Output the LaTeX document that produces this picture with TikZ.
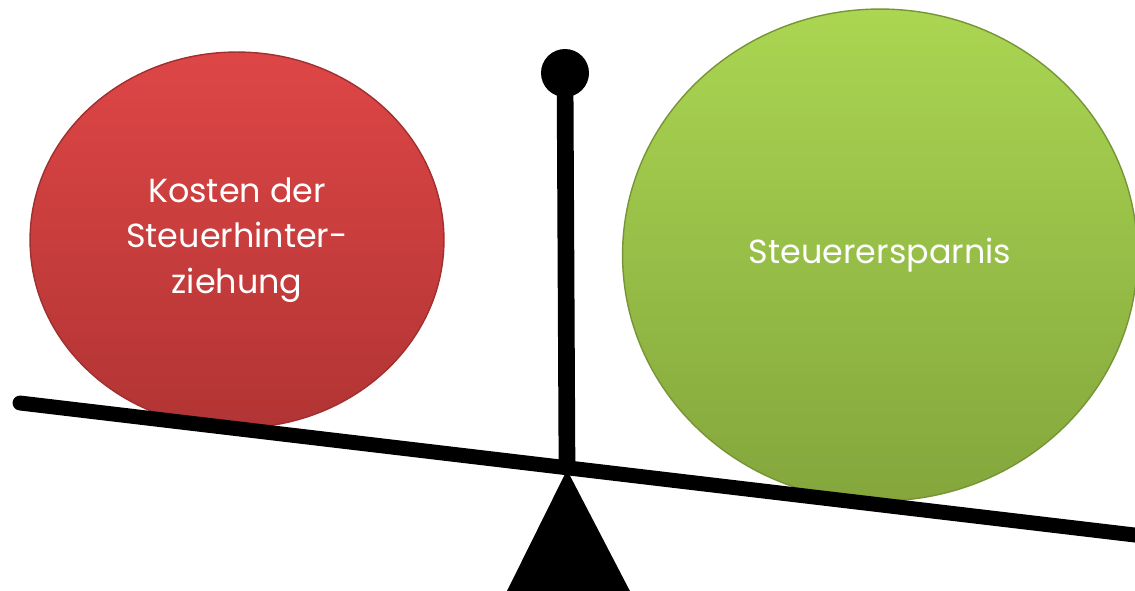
\documentclass[tikz,border=0pt]{standalone}
\usepackage{fontspec}
\newfontfamily\gothic{Poppins}
\usepackage{tikz}
\usetikzlibrary{shapes.geometric, positioning, calc}
\definecolor{kostenrot}{RGB}{222, 70, 70}
\definecolor{kostenrotdunkel}{RGB}{178, 52, 52}
\definecolor{sparengruen}{RGB}{170, 214, 82}
\definecolor{sparengruendunkel}{RGB}{132, 166, 60}
\tikzset{
  gewicht/.style      = {ellipse, inner sep=0pt, align=center, text=white, font=\gothic\fontsize{19}{26}\selectfont},
  gewichtrot/.style   = {gewicht, top color=kostenrot, bottom color=kostenrotdunkel, draw=kostenrotdunkel!90!black, line width=0.8pt},
  gewichtgruen/.style = {gewicht, top color=sparengruen, bottom color=sparengruendunkel, draw=sparengruendunkel!90!black, line width=0.8pt},
  balken/.style       = {black, line width=8.5pt, line cap=round},
  saeule/.style       = {black, line width=9.5pt},
}
\begin{document}
\begin{tikzpicture}[x=0.02cm, y=-0.02cm]
  % Bildausschnitt wie Vorlage
  \useasboundingbox (0,0) rectangle (1135,591);

  % Gewichte
  \node[gewichtrot, minimum width=8.28cm, minimum height=7.52cm] (kosten) at (237,240)
    {Kosten der\\Steuerhinter-\\ziehung};
  \node[gewichtgruen, minimum width=10.3cm, minimum height=9.84cm] (ersparnis) at (880,255) {Steuerersparnis};

  % Waage
  \coordinate (links) at (20,403);
  \coordinate (rechts) at (1160,538);
  \coordinate (drehpunkt) at (567,468);
  \draw[balken] (links) -- (rechts);

  \node[circle, fill=black, minimum size=0.96cm, inner sep=0pt] (kugel) at (565,73) {};
  \draw[saeule] (kugel.center) -- (drehpunkt);

  \coordinate (fussl) at (505,595);
  \coordinate (fussr) at (632,595);
  \fill[black, rounded corners=1.5pt] (567,470) -- (fussr) -- (fussl) -- cycle;
\end{tikzpicture}
\end{document}
